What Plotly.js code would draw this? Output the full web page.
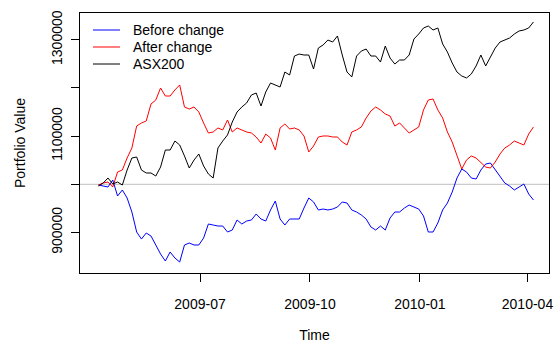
<!DOCTYPE html>
<html>
<head>
<meta charset="utf-8">
<script src="https://cdn.plot.ly/plotly-3.0.1.min.js"></script>
<style>html,body{margin:0;padding:0;background:#fff;}#chart{width:559px;height:347px;}</style>
</head>
<body>
<div id="chart"></div>
<script>
// Trading-date sample points (every 4 days)
const dates = [
"2009-04-07","2009-04-11","2009-04-15","2009-04-19","2009-04-23","2009-04-27",
"2009-05-01","2009-05-05","2009-05-09","2009-05-13","2009-05-17","2009-05-21","2009-05-25","2009-05-29",
"2009-06-02","2009-06-06","2009-06-10","2009-06-14","2009-06-18","2009-06-22","2009-06-26","2009-06-30",
"2009-07-04","2009-07-08","2009-07-12","2009-07-16","2009-07-20","2009-07-24","2009-07-28",
"2009-08-01","2009-08-05","2009-08-09","2009-08-13","2009-08-17","2009-08-21","2009-08-25","2009-08-29",
"2009-09-02","2009-09-06","2009-09-10","2009-09-14","2009-09-18","2009-09-22","2009-09-26","2009-09-30",
"2009-10-04","2009-10-08","2009-10-12","2009-10-16","2009-10-20","2009-10-24","2009-10-28",
"2009-11-01","2009-11-05","2009-11-09","2009-11-13","2009-11-17","2009-11-21","2009-11-25","2009-11-29",
"2009-12-03","2009-12-07","2009-12-11","2009-12-15","2009-12-19","2009-12-23","2009-12-27","2009-12-31",
"2010-01-04","2010-01-08","2010-01-12","2010-01-16","2010-01-20","2010-01-24","2010-01-28",
"2010-02-01","2010-02-05","2010-02-09","2010-02-13","2010-02-17","2010-02-21","2010-02-25",
"2010-03-01","2010-03-05","2010-03-09","2010-03-13","2010-03-17","2010-03-21","2010-03-25","2010-03-29",
"2010-04-02","2010-04-06"
];

const beforeChange = [
998500,996500,994400,1008900,975700,988200,
971600,942500,901000,886400,898900,892700,874000,855300,
840800,859500,847000,838700,874000,878100,874000,874000,
888500,917600,915500,913400,913400,901000,905100,
925900,917600,923800,925900,938400,928000,923800,946700,
965300,928000,915500,928000,928000,928000,950800,971600,
963300,946700,948700,946700,948700,952900,963300,
961200,946700,942500,936300,928000,911400,905100,913400,
905100,930000,942500,942500,950800,957000,952900,948700,
934200,901000,901000,919700,946700,961200,984000,
1013100,1031800,1025500,1013100,1011000,1029700,1042100,
1044200,1029700,1015200,1002700,996500,988200,994400,1000600,
979900,967400
];

const afterChange = [
998500,1002700,1004800,994400,1025500,1029700,
1054600,1075400,1121000,1127300,1131400,1166700,1175000,1199900,
1183300,1183300,1195800,1206200,1160500,1156300,1160500,1150100,
1127300,1106500,1108600,1116900,1112800,1133500,1108600,
1116900,1112800,1108600,1106500,1098200,1085700,1104400,1096100,
1071200,1116900,1125200,1114800,1116900,1112800,1100300,1067100,
1079500,1098200,1100300,1100300,1098200,1098200,1087800,
1081600,1108600,1112800,1119000,1137700,1152200,1160500,1154300,
1146000,1141800,1121000,1127300,1116900,1106500,1112800,1119000,
1154300,1175000,1177100,1154300,1137700,1108600,1087800,
1060800,1031800,1050400,1058800,1054600,1044200,1035900,
1033800,1046300,1062900,1075400,1081600,1089900,1085700,1081600,
1104400,1119000
];

const asx200 = [
996500,1002700,1013100,1000600,1004800,998500,
1029700,1054600,1056700,1029700,1023500,1023500,1017200,1035900,
1071200,1071200,1089900,1081600,1058800,1033800,1050400,1062900,
1038000,1021400,1013100,1075400,1089900,1102400,1129300,
1150100,1160500,1168800,1185400,1189500,1162500,1191600,1210300,
1206200,1202000,1233100,1226900,1266300,1270400,1268400,1268400,
1239300,1282900,1289200,1299500,1295400,1307900,1268400,
1233100,1222800,1266300,1276700,1280800,1266300,1266300,1253800,
1287000,1262200,1249700,1258000,1258000,1268400,1301600,1312000,
1324500,1328600,1320300,1324500,1291300,1274600,1251800,
1233100,1224800,1220700,1229000,1245600,1268400,1245600,
1264300,1282900,1295400,1299500,1303700,1312000,1318300,1320300,
1324500,1337000
];

const seriesNames = ["Before change","After change","ASX200"];
const seriesColors = ["blue","red","black"];
const xTickVals = ["2009-07-01","2009-10-01","2010-01-01","2010-04-01"];
const xTickText = ["2009-07","2009-10","2010-01","2010-04"];
const yTickVals = [900000,1000000,1100000,1200000,1300000];
const yTickText = ["900000","","1100000","","1300000"];
const baseline = 1000000;

const FONT = "Liberation Sans, Arial, Helvetica, sans-serif";
const seriesValues = [beforeChange, afterChange, asx200];
const traces = seriesValues.map((vals, k) => ({
  type: "scatter", mode: "lines", x: dates, y: vals, name: seriesNames[k],
  line: {color: seriesColors[k], width: 1}, showlegend: false
}));

// Hand-placed legend (R style, no box): line samples + labels, in paper coords
const legendRowsY = [0.9346, 0.8692, 0.8038];
const legendShapes = seriesNames.map((n, k) => ({
  type: "line", xref: "paper", yref: "paper", x0: 0.0277, x1: 0.0853,
  y0: legendRowsY[k], y1: legendRowsY[k], line: {color: seriesColors[k], width: 1}
}));
const legendLabels = seriesNames.map((n, k) => ({
  xref: "paper", yref: "paper", x: 0.1085, y: legendRowsY[k], xanchor: "left", yanchor: "middle",
  text: n, showarrow: false, font: {family: FONT, size: 14, color: "#000"}
}));

const layout = {
  width: 559, height: 347,
  margin: {l: 80, r: 10, t: 13, b: 74, pad: 0},
  paper_bgcolor: "#fff", plot_bgcolor: "#fff",
  font: {family: FONT, size: 14, color: "#000"},
  showlegend: false,
  xaxis: {
    type: "date", range: ["2009-03-22 14:00", "2010-04-19"],
    tickmode: "array", tickvals: xTickVals, ticktext: xTickText,
    ticks: "outside", ticklen: 8, tickcolor: "#000", tickwidth: 1,
    ticklabelstandoff: 10,
    showgrid: false, zeroline: false, showline: true, mirror: true, linecolor: "#000", linewidth: 1,
    tickfont: {family: FONT, size: 14, color: "#000"},
    title: {text: "Time", font: {family: FONT, size: 14, color: "#000"}, standoff: 19},
    automargin: false
  },
  yaxis: {
    range: [815900, 1355600],
    tickmode: "array", tickvals: yTickVals, ticktext: yTickText,
    ticks: "outside", ticklen: 8, tickcolor: "#000", tickwidth: 1, tickangle: -90,
    ticklabelstandoff: 3,
    showgrid: false, zeroline: false, showline: true, mirror: true, linecolor: "#000", linewidth: 1,
    tickfont: {family: FONT, size: 14, color: "#000"},
    title: {text: "Portfolio Value", font: {family: FONT, size: 14, color: "#000"}, standoff: 20},
    automargin: false
  },
  shapes: [{type: "line", xref: "paper", x0: 0, x1: 1, yref: "y", y0: baseline, y1: baseline,
            line: {color: "#bebebe", width: 1}, layer: "below"}].concat(legendShapes),
  annotations: legendLabels
};

Plotly.newPlot("chart", traces, layout, {displayModeBar: false, staticPlot: true});
</script>
</body>
</html>
